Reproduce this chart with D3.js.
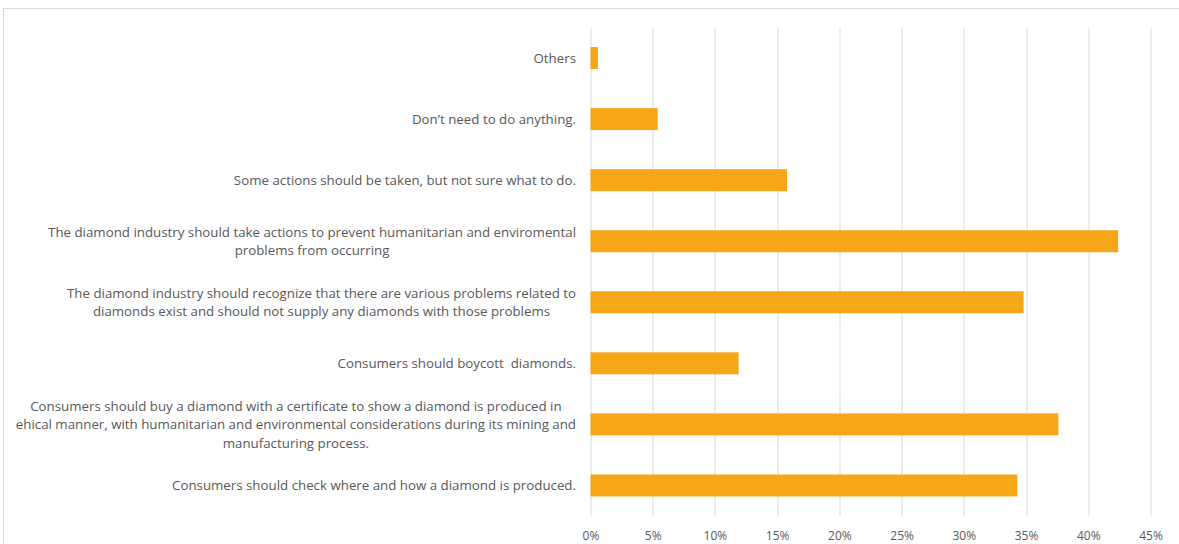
<!DOCTYPE html>
<html lang="en">
<head>
    <meta charset="UTF-8">
    <title>Diamond survey - what should be done</title>
    <script src="https://d3js.org/d3.v7.min.js"></script>
    <style>
        body { margin: 0; background: #fff; }
        svg { display: block; font-family: "Open Sans", sans-serif; }
        .cat text, .tick text { fill: #595959; white-space: pre; }
    </style>
</head>
<body>
<svg width="1179" height="544"></svg>
<script>
    // Categories top to bottom; each entry is a list of wrapped lines
    const categories = [
        ["Others"],
        ["Don\u2019t need to do anything."],
        ["Some actions should be taken, but not sure what to do."],
        ["The diamond industry should take actions to prevent humanitarian and enviromental",
         "problems from occurring"],
        ["The diamond industry should recognize that there are various problems related to",
         "diamonds exist and should not supply any diamonds with those problems"],
        ["Consumers should boycott  diamonds."],
        ["Consumers should buy a diamond with a certificate to show a diamond is produced in",
         "ehical manner, with humanitarian and environmental considerations during its mining and",
         "manufacturing process."],
        ["Consumers should check where and how a diamond is produced."]
    ];
    // Share of respondents (%)
    const values = [0.6, 5.4, 15.8, 42.4, 34.8, 11.9, 37.6, 34.3];
    const ticks = [0, 5, 10, 15, 20, 25, 30, 35, 40, 45];

    const svg = d3.select("svg");
    const margin = { top: 27.5, left: 590.5, right: 28.5, bottom: 28.5 };
    const width = 1150 - margin.left + 0.5;
    const height = 516 - margin.top;

    // chart area frame
    svg.append("rect")
        .attr("x", 3.5).attr("y", 8.5)
        .attr("width", 1300).attr("height", 700)
        .attr("fill", "none").attr("stroke", "#d9d9d9");

    const g = svg.append("g").attr("transform", `translate(${margin.left},${margin.top})`);

    const x = d3.scaleLinear().domain([0, 45]).range([0, width]);
    const ids = categories.map((c, i) => i);
    const y = d3.scaleBand().domain(ids).range([0, height]).paddingInner(0.64).paddingOuter(0.32);

    // vertical gridlines
    g.selectAll(".grid")
        .data(ticks)
        .enter().append("line")
        .attr("class", "grid")
        .attr("x1", d => Math.round(x(d)) + 0.5).attr("x2", d => Math.round(x(d)) + 0.5)
        .attr("y1", 0).attr("y2", height)
        .attr("stroke", "#d9d9d9").attr("stroke-width", 1);

    // bars
    g.selectAll(".bar")
        .data(values)
        .enter().append("rect")
        .attr("class", "bar")
        .attr("x", x(0))
        .attr("y", (d, i) => y(i))
        .attr("width", d => x(d))
        .attr("height", y.bandwidth())
        .attr("fill", "#f5a718");

    // x axis labels
    const xAxis = g.append("g")
        .attr("transform", `translate(0,${height})`)
        .call(d3.axisBottom(x).tickValues(ticks).tickFormat(d => d + "%").tickSize(0));
    xAxis.select(".domain").remove();
    xAxis.selectAll("text")
        .attr("y", 24).attr("dy", null)
        .attr("font-size", 12).attr("font-family", "'Open Sans', sans-serif");

    // category labels: block right-aligned, lines centred inside block
    const labelRight = 576;
    const lineH = 18.5;
    categories.forEach((lines, i) => {
        const cy = margin.top + y(i) + y.bandwidth() / 2;
        const grp = svg.append("g").attr("class", "cat");
        const texts = lines.map((ln, k) => grp.append("text")
            .attr("font-size", 13.3)
            .attr("text-anchor", "middle")
            .attr("dy", "0.35em")
            .attr("y", cy + (k - (lines.length - 1) / 2) * lineH)
            .text(ln));
        const maxW = d3.max(texts, t => t.node().getComputedTextLength());
        texts.forEach(t => t.attr("x", labelRight - maxW / 2));
    });
</script>
</body>
</html>
